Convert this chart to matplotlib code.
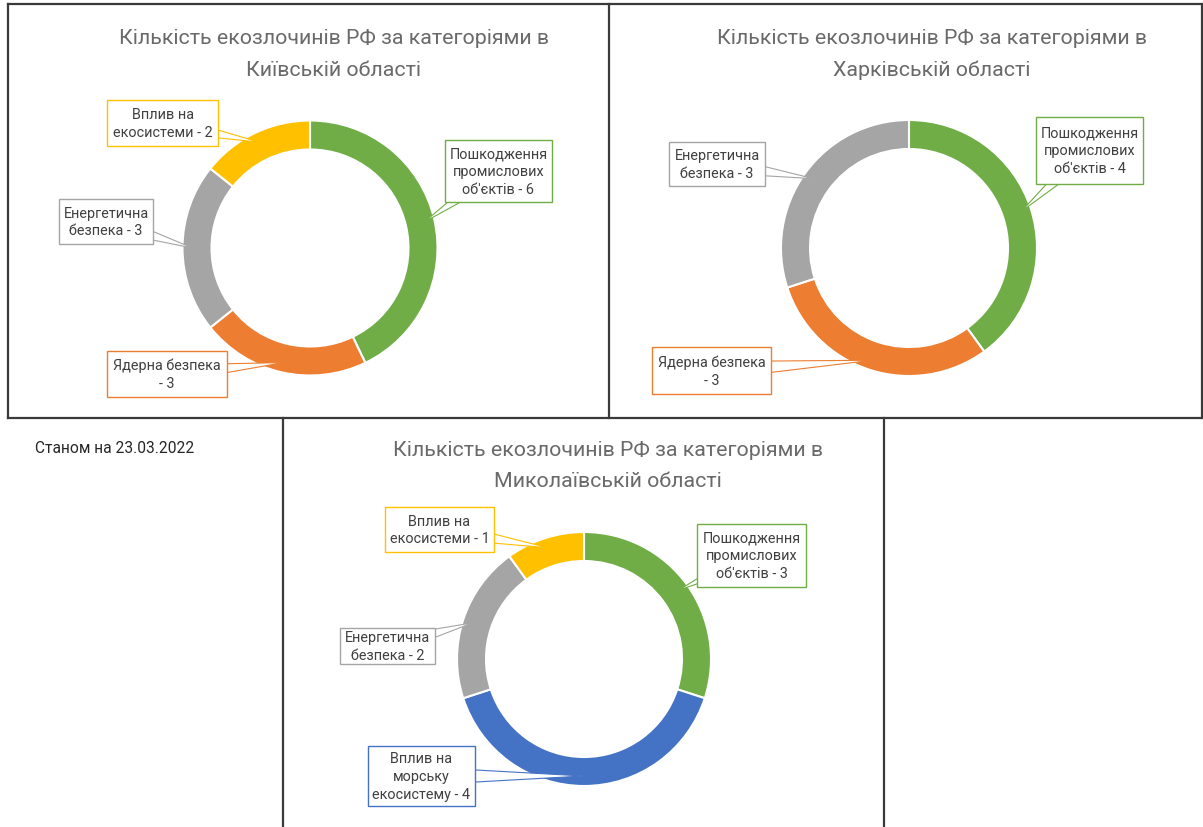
import numpy as np
import matplotlib
matplotlib.use("Agg")
import matplotlib.pyplot as plt
from matplotlib.patches import Rectangle, Polygon

plt.rcParams['font.family'] = ['Roboto', 'DejaVu Sans']

W, H = 1203, 828

# ---- data -------------------------------------------------------------
title_line1 = "Кількість екозлочинів РФ за категоріями в"
kyiv_region = "Київській області"
kharkiv_region = "Харківській області"
mykolaiv_region = "Миколаївській області"
date_note = "Станом на 23.03.2022"

kyiv_labels = ["Пошкодження\nпромислових\nоб'єктів - 6", "Ядерна безпека\n- 3",
               "Енергетична\nбезпека - 3", "Вплив на\nекосистеми - 2"]
kyiv_values = [6, 3, 3, 2]

kharkiv_labels = ["Пошкодження\nпромислових\nоб'єктів - 4", "Ядерна безпека\n- 3",
                  "Енергетична\nбезпека - 3"]
kharkiv_values = [4, 3, 3]

mykolaiv_labels = ["Пошкодження\nпромислових\nоб'єктів - 3", "Вплив на\nморську\nекосистему - 4",
                   "Енергетична\nбезпека - 2", "Вплив на\nекосистеми - 1"]
mykolaiv_values = [3, 4, 2, 1]

GREEN, ORANGE, GRAY, YELLOW, BLUE = "#70AD47", "#ED7D31", "#A5A5A5", "#FFC000", "#4472C4"
kyiv_colors = [GREEN, ORANGE, GRAY, YELLOW]
kharkiv_colors = [GREEN, ORANGE, GRAY]
mykolaiv_colors = [GREEN, BLUE, GRAY, YELLOW]

# ---- layout (pixel coordinates, y downwards) ------------------------
charts = [
    dict(values=kyiv_values, labels=kyiv_labels, colors=kyiv_colors,
         center=(310, 249), radius=127.5, title=(334, 39, kyiv_region),
         boxes=[(445, 552, 141, 203), (107, 227, 352, 398),
                (59, 153, 200, 245), (107, 218, 101, 147)]),
    dict(values=kharkiv_values, labels=kharkiv_labels, colors=kharkiv_colors,
         center=(909, 249), radius=128, title=(932, 39, kharkiv_region),
         boxes=[(1036, 1143, 118, 185), (652, 771, 348, 395),
                (669, 765, 143, 187)]),
    dict(values=mykolaiv_values, labels=mykolaiv_labels, colors=mykolaiv_colors,
         center=(584, 660), radius=127, title=(608, 451, mykolaiv_region),
         boxes=[(697, 806, 525, 588), (368, 475, 747, 807),
                (340, 435, 629, 665), (385, 494, 508, 553)]),
]
RING = 29
TEXT_COLOR = "#404040"
TITLE_COLOR = "#6a6a6a"

fig = plt.figure(figsize=(W / 100, H / 100), dpi=100)
ax = fig.add_axes([0, 0, 1, 1])

for ch in charts:
    cx, cy = ch["center"]
    R = ch["radius"]
    vals = ch["values"]
    # y axis is inverted, so start at -90 and go counter-clockwise in data space
    ax.pie(vals, colors=ch["colors"], center=(cx, cy), radius=R,
           startangle=-90, counterclock=True,
           wedgeprops=dict(width=RING, edgecolor="white", linewidth=1.5),
           frame=True)

    total = float(sum(vals))
    cum = 0.0
    for v, lab, col, box in zip(vals, ch["labels"], ch["colors"], ch["boxes"]):
        a = np.deg2rad(360.0 * (cum + v / 2.0) / total)
        cum += v
        r_tip = R - 10
        tx, ty = cx + r_tip * np.sin(a), cy - r_tip * np.cos(a)
        x0, x1, y0, y1 = box
        bx, by = (x0 + x1) / 2, (y0 + y1) / 2
        d = np.array([tx - bx, ty - by])
        n = np.array([-d[1], d[0]]) / np.hypot(*d)
        hw = 9
        wedge = Polygon([(bx + n[0] * hw, by + n[1] * hw), (tx, ty),
                         (bx - n[0] * hw, by - n[1] * hw)],
                        closed=True, facecolor="white", edgecolor=col,
                        linewidth=0.8, zorder=3)
        ax.add_patch(wedge)
        ax.add_patch(Rectangle((x0, y0), x1 - x0, y1 - y0, facecolor="white",
                               edgecolor=col, linewidth=1.0, zorder=4))
        ax.text(bx, by, lab, ha="center", va="center", fontsize=10.4,
                color=TEXT_COLOR, linespacing=1.35, zorder=5)

    tx, ty, region = ch["title"]
    ax.text(tx, ty, title_line1, ha="center", va="center", fontsize=15.4,
            color=TITLE_COLOR)
    ax.text(tx, ty + 31, region, ha="center", va="center", fontsize=15.4,
            color=TITLE_COLOR)

ax.text(35, 449, date_note, ha="left", va="center", fontsize=11.2, color="#262626")

# panel frames
LC, LW = "#3a3a3a", 1.6
ax.plot([8, 1203], [5, 5], color=LC, lw=LW)
ax.plot([8, 1203], [419, 419], color=LC, lw=LW)
ax.plot([8, 8], [5, 419], color=LC, lw=LW)
ax.plot([609, 609], [5, 419], color=LC, lw=LW)
ax.plot([1202, 1202], [5, 419], color=LC, lw=LW)
ax.plot([283, 283], [419, 828], color=LC, lw=LW)
ax.plot([884, 884], [419, 828], color=LC, lw=LW)

ax.set_xlim(0, W)
ax.set_ylim(H, 0)
ax.set_aspect("auto")
ax.axis("off")

fig.savefig("out.png", dpi=100, facecolor="white")
